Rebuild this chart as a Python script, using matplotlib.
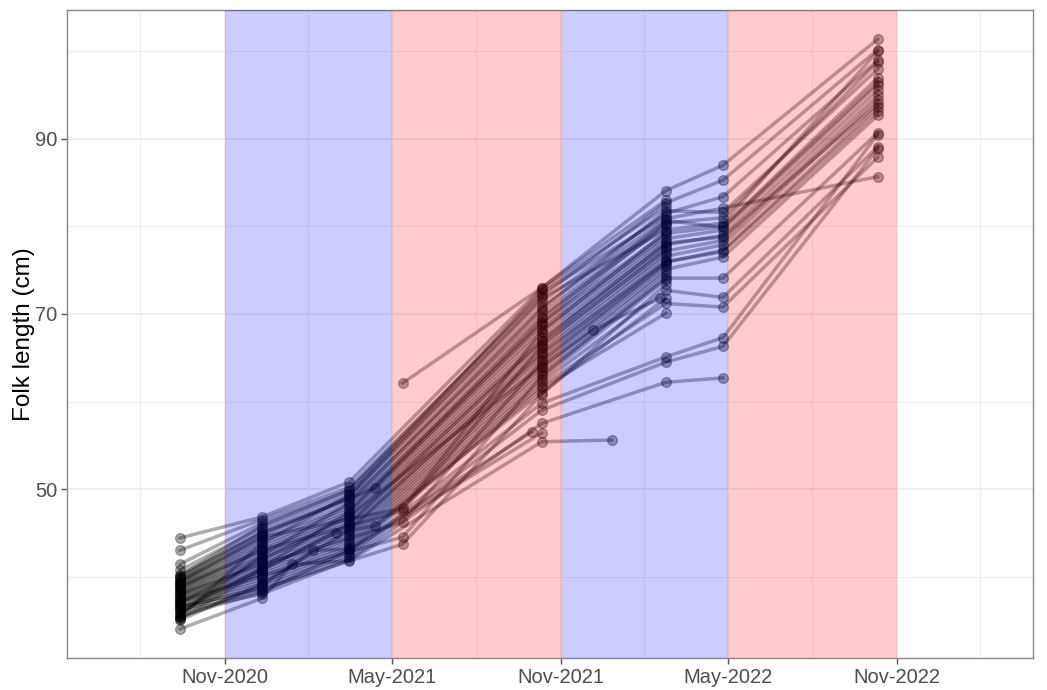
import numpy as np
import matplotlib
matplotlib.use('Agg')
import matplotlib.pyplot as plt
import matplotlib.dates as mdates
from datetime import datetime

plt.rcParams['font.family'] = ['Liberation Sans', 'DejaVu Sans']

# sampling dates of the regular surveys
survey_dates = ['2020-09-13', '2020-12-11', '2021-03-16', '2021-05-13',
                '2021-10-11', '2022-02-23', '2022-04-26', '2022-10-11']

# fork length (cm) of each fish at each survey, nan = not measured
n = np.nan
fish_lengths = [
    [44.4, 46.8, 50.8, n, 73.0, 84.1, 87.0, 101.4],
    [43.0, 46.5, 50.2, n, 72.0, 82.7, 85.3, 100.2],
    [41.4, 46.1, 49.8, n, 71.4, 81.5, 83.4, 99.0],
    [40.7, 45.6, 49.4, n, 70.8, 80.9, 82.1, 85.7],
    [40.1, 45.8, 49.9, n, 72.4, 81.2, n, n],
    [39.9, 45.2, 48.9, n, 70.2, 80.4, 81.0, 98.8],
    [39.8, 44.9, 48.6, n, 69.7, 80.0, n, n],
    [39.6, 44.6, 49.1, n, 71.8, 79.6, 80.4, 100.0],
    [39.5, 44.3, 48.2, n, 69.1, 79.2, 80.0, 97.0],
    [39.3, 44.0, 47.9, n, 68.7, 78.9, n, n],
    [39.2, 43.7, 47.6, n, 68.3, 78.6, 79.6, 96.2],
    [39.0, 43.4, 47.3, n, 67.9, 78.2, n, n],
    [38.9, 43.1, 47.0, n, 67.4, 77.9, 79.0, 95.6],
    [38.7, 42.9, 46.7, n, 67.0, 77.6, n, n],
    [38.6, 42.6, 46.4, n, 66.6, 77.2, 78.4, 95.0],
    [38.4, 42.3, 46.1, n, 66.1, 76.9, n, n],
    [38.3, 42.1, 45.8, n, 65.7, 76.6, 77.9, 94.5],
    [38.1, 41.8, 45.5, n, 65.2, 76.2, n, n],
    [38.0, 41.5, 45.2, n, 64.8, 75.9, 77.3, 93.7],
    [37.8, 41.2, 44.9, n, 64.3, 75.5, n, n],
    [37.6, 40.9, 44.6, n, 63.9, 75.1, 76.5, 92.7],
    [37.5, 40.6, 44.3, n, 63.5, 74.8, n, n],
    [37.3, 40.3, 44.0, n, 63.1, 74.1, 74.1, 90.7],
    [37.1, 40.0, 43.7, n, 62.6, 73.9, n, n],
    [37.0, 39.7, 43.4, n, 62.2, 72.7, 71.9, 89.1],
    [36.8, 39.4, 43.1, n, 61.8, 71.2, 70.8, 87.9],
    [36.6, 39.1, 42.8, n, 61.5, 70.1, n, n],
    [36.4, 38.8, 42.5, n, 59.8, 65.1, 67.3, 90.5],
    [36.2, 38.4, 42.2, n, 59.0, 64.5, 66.3, 88.9],
    [36.0, 38.0, 41.9, n, 57.5, 62.2, 62.7, n],
    [35.8, 41.0, 47.4, n, 69.5, 80.7, 79.9, 96.5],
    [35.6, 42.4, 48.4, n, 70.6, 81.8, 81.6, 98.0],
    [35.4, 43.8, 49.3, n, 72.7, 82.2, n, n],
    [35.2, 40.7, 46.0, n, 66.9, 78.1, 78.8, 94.0],
    [35.0, 39.2, 45.3, n, 65.5, 76.0, 77.1, 93.2],
    [39.4, 44.5, n, 47.8, 68.0, 79.4, n, n],
    [38.8, 43.0, n, 47.5, 66.4, 77.4, n, n],
    [37.9, 41.4, n, 46.2, 64.6, 75.7, n, n],
    [37.2, 40.1, n, 44.5, 62.9, 74.4, n, n],
    [36.5, 38.6, n, 43.7, 60.8, 73.4, n, n],
    [n, n, n, 62.1, 73.0, 83.0, n, n],
    [35.5, 38.2, 43.0, n, 56.4, n, n, n],
]

# fish measured on off-schedule dates
odd_dates = [
    ['2020-09-13', '2020-12-11', '2021-01-13', '2021-03-16', '2021-10-11', '2021-12-26'],
    ['2020-09-13', '2020-12-11', '2021-02-05', '2021-03-16', '2021-09-30'],
    ['2020-09-13', '2020-12-11', '2021-03-02', '2021-04-13', '2021-10-11', '2022-02-23'],
    ['2020-09-13', '2020-12-11', '2021-04-13', '2021-10-11', '2022-02-23'],
    ['2020-09-13', '2020-12-11', '2021-03-16', '2021-10-11', '2021-12-06', '2022-02-17'],
]
odd_lengths = [
    [34.0, 37.5, 41.4, 41.8, 55.4, 55.6],
    [35.3, 38.9, 43.0, 43.1, 56.5],
    [36.3, 40.8, 45.0, 45.8, 61.0, 71.8],
    [40.2, 45.0, 50.1, 69.0, 80.3],
    [37.0, 41.9, 46.9, 64.0, 68.2, 71.8],
]

# seasons shaded on the chart
season_start = ['2020-11-01', '2021-05-01', '2021-11-01', '2022-05-01']
season_end = ['2021-05-01', '2021-11-01', '2022-05-01', '2022-11-01']
season_color = ['blue', 'red', 'blue', 'red']

tick_dates = ['2020-11-01', '2021-05-01', '2021-11-01', '2022-05-01', '2022-11-01']
tick_labels = ['Nov-2020', 'May-2021', 'Nov-2021', 'May-2022', 'Nov-2022']


def d(s):
    return mdates.date2num(datetime.strptime(s, '%Y-%m-%d'))


fig = plt.figure(figsize=(10.47, 6.9), dpi=100)
ax = fig.add_axes([0.064, 0.0464, 0.9226, 0.9391])

x_survey = np.array([d(s) for s in survey_dates])
for row in fish_lengths:
    y = np.array(row)
    ok = ~np.isnan(y)
    ax.plot(x_survey[ok], y[ok], '-o', color='black', alpha=0.32, lw=2.5,
            ms=7, mew=1.0, zorder=2)
for ds, vals in zip(odd_dates, odd_lengths):
    ax.plot([d(s) for s in ds], vals, '-o', color='black', alpha=0.32, lw=2.5,
            ms=7, mew=1.0, zorder=2)

for s, e, c in zip(season_start, season_end, season_color):
    ax.axvspan(d(s), d(e), color=c, alpha=0.2, lw=0, zorder=3)

# axes range
ax.set_xlim(d('2020-11-01') - 171.6, d('2022-11-01') + 147.7)
ax.set_ylim(30.69, 104.74)

major_x = [d(s) for s in tick_dates]
all_major = [d('2020-05-01')] + major_x + [d('2023-05-01')]
minor_x = [(a + b) / 2 for a, b in zip(all_major[:-1], all_major[1:])]
ax.set_xticks(major_x)
ax.set_xticklabels(tick_labels)
ax.set_xticks(minor_x, minor=True)
ax.set_yticks([50, 70, 90])
ax.set_yticks([40, 60, 80, 100], minor=True)

ax.set_axisbelow(True)
ax.grid(which='major', color='#ebebeb', lw=1.1, zorder=0)
ax.grid(which='minor', color='#ebebeb', lw=0.6, zorder=0)
ax.tick_params(which='major', length=4, width=1.0, color='#555555',
               labelcolor='#4d4d4d', labelsize=14.5, pad=3)
ax.tick_params(which='minor', length=0)
for sp in ax.spines.values():
    sp.set_color('#888888')
    sp.set_linewidth(1.0)

ax.set_ylabel('Folk length (cm)', fontsize=17.5, color='black', labelpad=0)

fig.savefig('out.png', dpi=100)
